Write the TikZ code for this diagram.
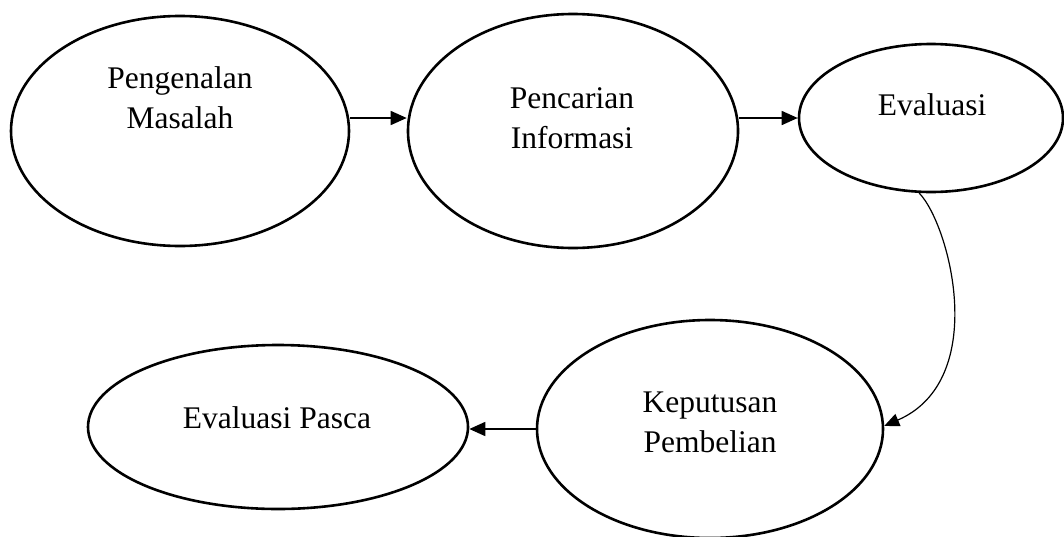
\documentclass[tikz,border=0pt]{standalone}
\usepackage{fontspec}
\setmainfont{Liberation Serif}
\usetikzlibrary{shapes.geometric,arrows.meta}
\tikzset{
  oval/.style={draw, ellipse, line width=2.6pt, inner sep=0pt},
  lbl/.style={anchor=base, align=center, inner sep=0pt, font=\fontsize{31.5}{39.5}\selectfont},
  conn/.style={line width=1.6pt, -{Triangle[length=16pt,width=14pt]}},
  curveconn/.style={line width=1.2pt, -{Triangle[length=15pt,width=13pt]}}
}
\begin{document}
\begin{tikzpicture}[x=1pt,y=-1pt]
\useasboundingbox (0,0) rectangle (1064,536);
\node[oval, minimum width=338pt, minimum height=230pt] (e1) at (180,131) {};
\node[oval, minimum width=330pt, minimum height=234pt] (e2) at (573,131) {};
\node[oval, minimum width=264pt, minimum height=148pt] (e3) at (931,118) {};
\node[oval, minimum width=346pt, minimum height=218pt] (e4) at (710,429) {};
\node[oval, minimum width=380pt, minimum height=164pt] (e5) at (278,427) {};
\node[lbl] (t1) at (180,128) {Pengenalan\\Masalah};
\node[lbl] (t2) at (572,148) {Pencarian\\Informasi};
\node[lbl] (t3) at (932,115) {Evaluasi};
\node[lbl] (t4) at (710,452) {Keputusan\\Pembelian};
\node[lbl] (t5) at (277,428) {Evaluasi Pasca};
\coordinate (row) at (0,118);
\draw[conn] (e1.east |- row) -- (e2.west |- row);
\draw[conn] (e2.east |- row) -- (e3.west |- row);
\draw[curveconn] (e3.261.7) .. controls (950,225) and (990,380) .. (e4.1.5);
\draw[conn] (e4.west) -- (e4.west -| e5.east);
\end{tikzpicture}
\end{document}
